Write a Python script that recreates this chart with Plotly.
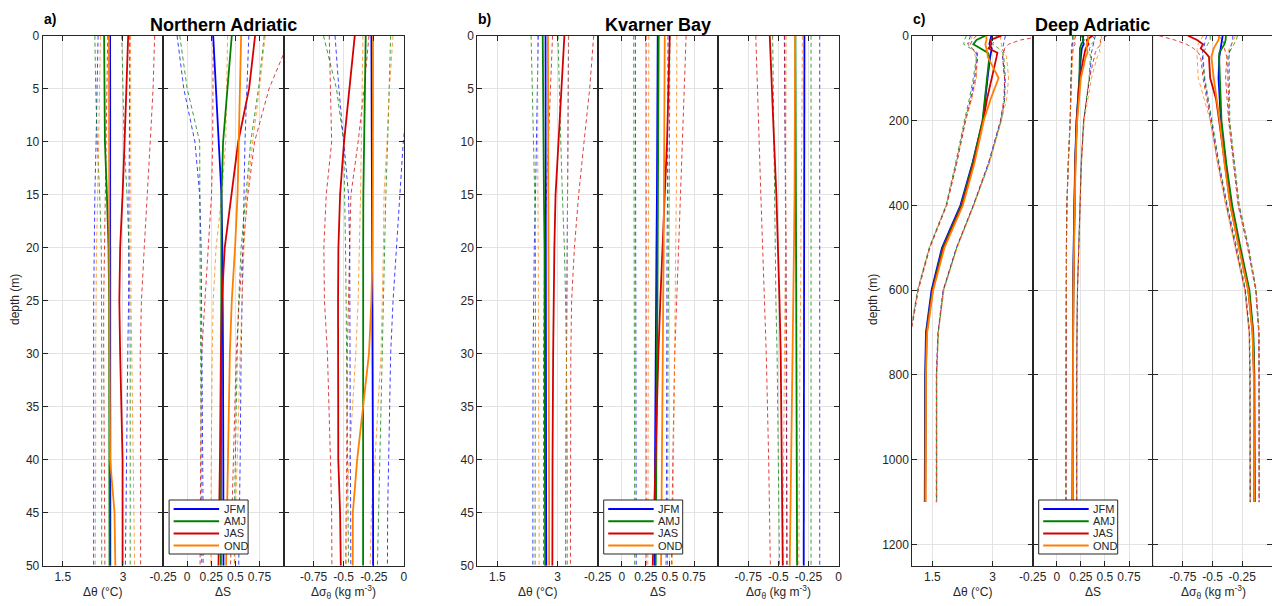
import plotly.graph_objects as go

# ---------------- data ----------------
seasons = ["JFM", "AMJ", "JAS", "OND"]
season_colors = ["#0000ff", "#008000", "#d40000", "#ff8000"]

depth_ab = [0, 5, 10, 15, 20, 25, 30, 40, 45, 50]
depth_c = [0, 10, 20, 30, 40, 50, 100, 150, 200, 300, 400, 500, 600, 700, 800, 1100]

# ---- a) Northern Adriatic : delta theta ----
na_th_jfm = [2.68, 2.68, 2.68, 2.68, 2.68, 2.68, 2.68, 2.68, 2.685, 2.685]
na_th_jfm_lo = [2.38, 2.36, 2.33, 2.30, 2.28, 2.27, 2.27, 2.27, 2.27, 2.27]
na_th_jfm_hi = [3.17, 3.17, 3.16, 3.15, 3.15, 3.14, 3.12, 3.09, 3.07, 3.06]
na_th_amj = [2.53, 2.535, 2.55, 2.60, 2.64, 2.655, 2.66, 2.665, 2.665, 2.665]
na_th_amj_lo = [2.30, 2.32, 2.36, 2.42, 2.46, 2.47, 2.47, 2.47, 2.47, 2.47]
na_th_amj_hi = [2.97, 3.00, 3.03, 3.10, 3.15, 3.17, 3.18, 3.18, 3.18, 3.18]
na_th_jas = [3.13, 3.09, 3.04, 2.99, 2.93, 2.91, 2.93, 2.99, 2.99, 2.99]
na_th_jas_lo = [2.62, 2.60, 2.58, 2.56, 2.54, 2.52, 2.52, 2.54, 2.55, 2.55]
na_th_jas_hi = [3.79, 3.75, 3.68, 3.60, 3.53, 3.46, 3.43, 3.44, 3.44, 3.44]
na_th_ond = [2.65, 2.65, 2.65, 2.65, 2.655, 2.66, 2.665, 2.68, 2.79, 2.81]
na_th_ond_lo = [2.44, 2.42, 2.40, 2.37, 2.34, 2.33, 2.32, 2.32, 2.31, 2.31]
na_th_ond_hi = [3.19, 3.19, 3.19, 3.19, 3.19, 3.20, 3.22, 3.25, 3.28, 3.29]

# ---- a) Northern Adriatic : delta S ----
na_s_jfm = [0.27, 0.30, 0.33, 0.356, 0.365, 0.37, 0.372, 0.375, 0.377, 0.377]
na_s_jfm_lo = [-0.105, -0.035, 0.08, 0.13, 0.145, 0.15, 0.155, 0.16, 0.165, 0.165]
na_s_jfm_hi = [0.64, 0.62, 0.60, 0.59, 0.58, 0.57, 0.56, 0.55, 0.54, 0.535]
na_s_amj = [0.463, 0.42, 0.373, 0.356, 0.355, 0.355, 0.355, 0.352, 0.35, 0.35]
na_s_amj_lo = [-0.077, 0.0, 0.13, 0.13, 0.13, 0.135, 0.14, 0.145, 0.15, 0.15]
na_s_amj_hi = [0.80, 0.74, 0.66, 0.61, 0.56, 0.535, 0.52, 0.50, 0.49, 0.49]
na_s_jas = [0.705, 0.643, 0.53, 0.46, 0.39, 0.36, 0.35, 0.34, 0.33, 0.325]
na_s_jas_lo = [0.27, 0.27, 0.265, 0.253, 0.22, 0.18, 0.15, 0.14, 0.135, 0.134]
na_s_jas_hi = [1.08, 0.85, 0.70, 0.63, 0.58, 0.54, 0.51, 0.48, 0.46, 0.45]
na_s_ond = [0.56, 0.55, 0.535, 0.523, 0.497, 0.463, 0.443, 0.42, 0.41, 0.404]
na_s_ond_lo = [0.42, 0.41, 0.40, 0.36, 0.30, 0.27, 0.26, 0.25, 0.245, 0.245]
na_s_ond_hi = [0.81, 0.75, 0.68, 0.62, 0.59, 0.57, 0.55, 0.52, 0.50, 0.49]

# ---- a) Northern Adriatic : delta sigma_theta ----
na_sg_jfm = [-0.27, -0.268, -0.265, -0.262, -0.26, -0.26, -0.258, -0.257, -0.256, -0.256]
na_sg_jfm_lo = [-0.572, -0.54, -0.50, -0.46, -0.45, -0.45, -0.45, -0.445, -0.442, -0.441]
na_sg_jfm_hi = [0.10, 0.04, -0.005, -0.035, -0.06, -0.09, -0.11, -0.13, -0.135, -0.137]
na_sg_amj = [-0.317, -0.325, -0.333, -0.337, -0.338, -0.339, -0.339, -0.339, -0.339, -0.339]
na_sg_amj_lo = [-0.668, -0.56, -0.50, -0.49, -0.485, -0.48, -0.475, -0.47, -0.465, -0.46]
na_sg_amj_hi = [-0.11, -0.12, -0.135, -0.15, -0.16, -0.17, -0.18, -0.20, -0.21, -0.22]
na_sg_jas = [-0.408, -0.455, -0.497, -0.53, -0.544, -0.547, -0.547, -0.545, -0.53, -0.524]
na_sg_jas_lo = [-0.62, -0.61, -0.60, -0.645, -0.665, -0.66, -0.635, -0.61, -0.60, -0.598]
na_sg_jas_hi = [-0.29, -0.33, -0.38, -0.44, -0.45, -0.46, -0.47, -0.475, -0.48, -0.483]
na_sg_ond = [-0.256, -0.256, -0.256, -0.257, -0.26, -0.27, -0.29, -0.388, -0.424, -0.425]
na_sg_ond_lo = [-0.34, -0.345, -0.35, -0.36, -0.37, -0.38, -0.40, -0.45, -0.48, -0.48]
na_sg_ond_hi = [-0.09, -0.12, -0.14, -0.165, -0.17, -0.18, -0.19, -0.24, -0.27, -0.28]

# ---- b) Kvarner Bay : delta theta ----
kb_th_jfm = [2.70, 2.70, 2.70, 2.705, 2.705, 2.71, 2.71, 2.71, 2.715, 2.72]
kb_th_jfm_lo = [2.52, 2.50, 2.47, 2.45, 2.42, 2.40, 2.39, 2.385, 2.385, 2.385]
kb_th_jfm_hi = [3.275, 3.27, 3.26, 3.25, 3.24, 3.23, 3.22, 3.21, 3.20, 3.20]
kb_th_amj = [2.63, 2.635, 2.645, 2.66, 2.675, 2.68, 2.685, 2.69, 2.69, 2.69]
kb_th_amj_lo = [2.34, 2.37, 2.41, 2.43, 2.45, 2.45, 2.45, 2.44, 2.44, 2.44]
kb_th_amj_hi = [3.01, 3.04, 3.08, 3.12, 3.17, 3.20, 3.22, 3.24, 3.24, 3.24]
kb_th_jas = [3.17, 3.10, 3.03, 2.95, 2.92, 2.90, 2.89, 2.875, 2.87, 2.87]
kb_th_jas_lo = [2.875, 2.82, 2.77, 2.72, 2.68, 2.66, 2.65, 2.65, 2.65, 2.65]
kb_th_jas_hi = [3.90, 3.80, 3.66, 3.525, 3.42, 3.35, 3.33, 3.32, 3.32, 3.32]
kb_th_ond = [2.76, 2.765, 2.77, 2.775, 2.78, 2.785, 2.785, 2.79, 2.79, 2.79]
kb_th_ond_lo = [2.50, 2.50, 2.50, 2.51, 2.52, 2.52, 2.53, 2.53, 2.54, 2.54]
kb_th_ond_hi = [3.27, 3.27, 3.26, 3.25, 3.24, 3.23, 3.22, 3.21, 3.20, 3.20]

# ---- b) Kvarner Bay : delta S ----
kb_s_jfm = [0.373, 0.372, 0.37, 0.365, 0.36, 0.355, 0.35, 0.345, 0.343, 0.342]
kb_s_jfm_lo = [0.141, 0.142, 0.143, 0.145, 0.146, 0.147, 0.148, 0.149, 0.15, 0.15]
kb_s_jfm_hi = [0.48, 0.48, 0.478, 0.475, 0.47, 0.47, 0.468, 0.465, 0.462, 0.46]
kb_s_amj = [0.383, 0.382, 0.38, 0.378, 0.375, 0.37, 0.365, 0.36, 0.355, 0.352]
kb_s_amj_lo = [0.124, 0.126, 0.128, 0.13, 0.13, 0.131, 0.132, 0.133, 0.134, 0.134]
kb_s_amj_hi = [0.50, 0.50, 0.495, 0.49, 0.485, 0.48, 0.48, 0.478, 0.476, 0.475]
kb_s_jas = [0.498, 0.485, 0.47, 0.446, 0.42, 0.40, 0.38, 0.35, 0.33, 0.321]
kb_s_jas_lo = [0.253, 0.253, 0.253, 0.253, 0.253, 0.253, 0.253, 0.253, 0.253, 0.253]
kb_s_jas_hi = [0.668, 0.65, 0.63, 0.61, 0.59, 0.57, 0.55, 0.53, 0.52, 0.515]
kb_s_ond = [0.446, 0.445, 0.443, 0.44, 0.435, 0.43, 0.425, 0.415, 0.41, 0.408]
kb_s_ond_lo = [0.28, 0.28, 0.279, 0.278, 0.277, 0.276, 0.275, 0.273, 0.272, 0.27]
kb_s_ond_hi = [0.572, 0.572, 0.57, 0.566, 0.56, 0.555, 0.548, 0.537, 0.53, 0.525]

# ---- b) Kvarner Bay : delta sigma_theta ----
kb_sg_jfm = [-0.283, -0.284, -0.285, -0.285, -0.286, -0.286, -0.287, -0.288, -0.289, -0.289]
kb_sg_jfm_lo = [-0.447, -0.445, -0.443, -0.44, -0.438, -0.436, -0.434, -0.431, -0.429, -0.427]
kb_sg_jfm_hi = [-0.156, -0.156, -0.156, -0.156, -0.156, -0.156, -0.156, -0.156, -0.156, -0.156]
kb_sg_amj = [-0.358, -0.356, -0.354, -0.352, -0.35, -0.349, -0.348, -0.346, -0.345, -0.344]
kb_sg_amj_lo = [-0.547, -0.54, -0.535, -0.53, -0.525, -0.52, -0.51, -0.50, -0.495, -0.49]
kb_sg_amj_hi = [-0.228, -0.228, -0.228, -0.228, -0.228, -0.228, -0.228, -0.228, -0.228, -0.228]
kb_sg_jas = [-0.571, -0.555, -0.535, -0.516, -0.50, -0.49, -0.48, -0.47, -0.466, -0.463]
kb_sg_jas_lo = [-0.687, -0.675, -0.66, -0.645, -0.63, -0.615, -0.60, -0.58, -0.57, -0.566]
kb_sg_jas_hi = [-0.45, -0.445, -0.44, -0.44, -0.435, -0.435, -0.43, -0.43, -0.43, -0.43]
kb_sg_ond = [-0.36, -0.36, -0.36, -0.365, -0.37, -0.375, -0.38, -0.39, -0.40, -0.405]
kb_sg_ond_lo = [-0.435, -0.435, -0.437, -0.44, -0.44, -0.445, -0.45, -0.455, -0.46, -0.46]
kb_sg_ond_hi = [-0.30, -0.30, -0.305, -0.31, -0.31, -0.315, -0.32, -0.325, -0.33, -0.33]

# ---- c) Deep Adriatic : delta theta ----
da_th_jfm = [2.97, 2.94, 2.92, 2.98, 2.96, 2.94, 2.875, 2.82, 2.76, 2.50, 2.20, 1.74, 1.48, 1.34, 1.32, 1.31]
da_th_jfm_lo = [2.45, 2.42, 2.38, 2.50, 2.60, 2.62, 2.55, 2.45, 2.32, 2.10, 1.85, 1.43, 1.14, 0.96, 0.94, 0.94]
da_th_jfm_hi = [3.32, 3.30, 3.28, 3.25, 3.28, 3.25, 3.30, 3.30, 3.20, 2.90, 2.52, 2.10, 1.77, 1.64, 1.60, 1.60]
da_th_amj = [2.82, 2.60, 2.52, 2.70, 2.88, 2.92, 2.86, 2.80, 2.75, 2.51, 2.22, 1.76, 1.50, 1.35, 1.33, 1.32]
da_th_amj_lo = [2.35, 2.30, 2.28, 2.45, 2.58, 2.60, 2.52, 2.42, 2.30, 2.08, 1.84, 1.42, 1.13, 0.95, 0.93, 0.93]
da_th_amj_hi = [3.10, 3.05, 3.00, 3.15, 3.25, 3.28, 3.32, 3.30, 3.22, 2.92, 2.53, 2.11, 1.78, 1.65, 1.61, 1.61]
da_th_jas = [3.22, 2.95, 2.97, 2.90, 3.12, 3.10, 2.98, 2.86, 2.77, 2.53, 2.24, 1.78, 1.51, 1.36, 1.335, 1.325]
da_th_jas_lo = [2.60, 2.50, 2.45, 2.48, 2.62, 2.63, 2.58, 2.47, 2.33, 2.11, 1.86, 1.44, 1.15, 0.97, 0.95, 0.95]
da_th_jas_hi = [4.30, 3.70, 3.40, 3.30, 3.28, 3.25, 3.30, 3.28, 3.20, 2.90, 2.52, 2.10, 1.77, 1.64, 1.60, 1.60]
da_th_ond = [2.84, 2.85, 2.82, 2.85, 2.87, 2.88, 3.15, 2.95, 2.78, 2.55, 2.26, 1.80, 1.52, 1.37, 1.34, 1.33]
da_th_ond_lo = [2.50, 2.45, 2.40, 2.50, 2.55, 2.58, 2.60, 2.48, 2.32, 2.10, 1.85, 1.43, 1.14, 0.96, 0.94, 0.94]
da_th_ond_hi = [3.20, 3.20, 3.22, 3.22, 3.30, 3.35, 3.40, 3.35, 3.22, 2.92, 2.54, 2.12, 1.79, 1.65, 1.61, 1.61]

# ---- c) Deep Adriatic : delta S ----
da_s_jfm = [0.276, 0.27, 0.28, 0.26, 0.255, 0.25, 0.235, 0.22, 0.205, 0.19, 0.18, 0.175, 0.17, 0.167, 0.165, 0.163]
da_s_jfm_lo = [0.17, 0.165, 0.16, 0.158, 0.155, 0.155, 0.15, 0.145, 0.14, 0.12, 0.105, 0.10, 0.098, 0.096, 0.095, 0.095]
da_s_jfm_hi = [0.40, 0.39, 0.38, 0.37, 0.36, 0.36, 0.34, 0.31, 0.28, 0.255, 0.24, 0.225, 0.215, 0.21, 0.207, 0.207]
da_s_amj = [0.26, 0.28, 0.255, 0.24, 0.24, 0.24, 0.235, 0.222, 0.207, 0.192, 0.182, 0.177, 0.172, 0.169, 0.167, 0.165]
da_s_amj_lo = [0.16, 0.17, 0.155, 0.15, 0.15, 0.152, 0.148, 0.143, 0.138, 0.118, 0.104, 0.099, 0.097, 0.096, 0.095, 0.095]
da_s_amj_hi = [0.37, 0.40, 0.36, 0.34, 0.34, 0.35, 0.335, 0.305, 0.278, 0.253, 0.238, 0.224, 0.214, 0.209, 0.207, 0.207]
da_s_jas = [0.37, 0.31, 0.33, 0.30, 0.29, 0.28, 0.24, 0.225, 0.208, 0.193, 0.183, 0.178, 0.173, 0.17, 0.168, 0.166]
da_s_jas_lo = [0.20, 0.18, 0.19, 0.17, 0.165, 0.16, 0.15, 0.145, 0.14, 0.12, 0.105, 0.10, 0.098, 0.096, 0.095, 0.095]
da_s_jas_hi = [0.52, 0.45, 0.46, 0.42, 0.40, 0.39, 0.34, 0.31, 0.28, 0.255, 0.24, 0.225, 0.215, 0.21, 0.207, 0.207]
da_s_ond = [0.32, 0.33, 0.31, 0.31, 0.32, 0.30, 0.25, 0.23, 0.212, 0.195, 0.185, 0.178, 0.172, 0.17, 0.168, 0.167]
da_s_ond_lo = [0.18, 0.18, 0.17, 0.17, 0.17, 0.165, 0.155, 0.148, 0.142, 0.121, 0.106, 0.101, 0.098, 0.096, 0.095, 0.095]
da_s_ond_hi = [0.46, 0.47, 0.45, 0.44, 0.45, 0.42, 0.36, 0.32, 0.285, 0.258, 0.242, 0.226, 0.216, 0.21, 0.208, 0.208]

# ---- c) Deep Adriatic : delta sigma_theta ----
da_sg_jfm = [-0.415, -0.42, -0.43, -0.435, -0.44, -0.443, -0.45, -0.44, -0.43, -0.39, -0.34, -0.27, -0.195, -0.16, -0.15, -0.147]
da_sg_jfm_lo = [-0.55, -0.56, -0.57, -0.58, -0.585, -0.585, -0.57, -0.54, -0.51, -0.45, -0.38, -0.30, -0.225, -0.19, -0.185, -0.183]
da_sg_jfm_hi = [-0.33, -0.33, -0.34, -0.35, -0.36, -0.37, -0.37, -0.365, -0.36, -0.32, -0.28, -0.20, -0.135, -0.11, -0.108, -0.108]
da_sg_amj = [-0.388, -0.39, -0.40, -0.42, -0.443, -0.445, -0.44, -0.435, -0.425, -0.385, -0.335, -0.265, -0.19, -0.157, -0.148, -0.145]
da_sg_amj_lo = [-0.52, -0.52, -0.54, -0.56, -0.58, -0.58, -0.565, -0.535, -0.505, -0.445, -0.375, -0.295, -0.222, -0.188, -0.184, -0.182]
da_sg_amj_hi = [-0.29, -0.30, -0.32, -0.34, -0.36, -0.36, -0.36, -0.36, -0.355, -0.315, -0.275, -0.195, -0.132, -0.108, -0.106, -0.106]
da_sg_jas = [-0.706, -0.63, -0.58, -0.60, -0.56, -0.53, -0.52, -0.47, -0.445, -0.40, -0.35, -0.275, -0.20, -0.163, -0.152, -0.149]
da_sg_jas_lo = [-0.95, -0.82, -0.72, -0.66, -0.62, -0.60, -0.58, -0.55, -0.515, -0.455, -0.385, -0.305, -0.228, -0.192, -0.186, -0.184]
da_sg_jas_hi = [-0.45, -0.42, -0.40, -0.40, -0.39, -0.38, -0.39, -0.375, -0.365, -0.325, -0.285, -0.205, -0.138, -0.112, -0.109, -0.109]
da_sg_ond = [-0.443, -0.45, -0.47, -0.49, -0.50, -0.51, -0.49, -0.465, -0.44, -0.40, -0.35, -0.278, -0.20, -0.164, -0.153, -0.15]
da_sg_ond_lo = [-0.58, -0.60, -0.62, -0.63, -0.63, -0.63, -0.62, -0.57, -0.52, -0.46, -0.39, -0.31, -0.23, -0.193, -0.187, -0.185]
da_sg_ond_hi = [-0.31, -0.32, -0.34, -0.36, -0.37, -0.38, -0.37, -0.365, -0.36, -0.32, -0.28, -0.20, -0.135, -0.11, -0.108, -0.108]

# axis ticks
theta_ticks = [1.5, 3]
theta_ticktext = ["1.5", "3"]
sal_ticks = [-0.25, 0, 0.25, 0.5, 0.75]
sal_ticktext = ["-0.25", "0", "0.25", "0.5", "0.75"]
sig_ticks = [-0.75, -0.5, -0.25, 0]
sig_ticktext = ["-0.75", "-0.5", "-0.25", "0"]
depth_ticks_ab = [0, 5, 10, 15, 20, 25, 30, 35, 40, 45, 50]
depth_ticks_c = [0, 200, 400, 600, 800, 1000, 1200]

# ---------------- assembly ----------------
panels = [
    dict(label="a)", title="Northern Adriatic", depth=depth_ab, yrange=[50, 0],
         yticks=depth_ticks_ab, left=42.7, ytitle=True,
         vars=[[(na_th_jfm, na_th_jfm_lo, na_th_jfm_hi), (na_th_amj, na_th_amj_lo, na_th_amj_hi),
                (na_th_jas, na_th_jas_lo, na_th_jas_hi), (na_th_ond, na_th_ond_lo, na_th_ond_hi)],
               [(na_s_jfm, na_s_jfm_lo, na_s_jfm_hi), (na_s_amj, na_s_amj_lo, na_s_amj_hi),
                (na_s_jas, na_s_jas_lo, na_s_jas_hi), (na_s_ond, na_s_ond_lo, na_s_ond_hi)],
               [(na_sg_jfm, na_sg_jfm_lo, na_sg_jfm_hi), (na_sg_amj, na_sg_amj_lo, na_sg_amj_hi),
                (na_sg_jas, na_sg_jas_lo, na_sg_jas_hi), (na_sg_ond, na_sg_ond_lo, na_sg_ond_hi)]]),
    dict(label="b)", title="Kvarner Bay", depth=depth_ab, yrange=[50, 0],
         yticks=depth_ticks_ab, left=477.3, ytitle=False,
         vars=[[(kb_th_jfm, kb_th_jfm_lo, kb_th_jfm_hi), (kb_th_amj, kb_th_amj_lo, kb_th_amj_hi),
                (kb_th_jas, kb_th_jas_lo, kb_th_jas_hi), (kb_th_ond, kb_th_ond_lo, kb_th_ond_hi)],
               [(kb_s_jfm, kb_s_jfm_lo, kb_s_jfm_hi), (kb_s_amj, kb_s_amj_lo, kb_s_amj_hi),
                (kb_s_jas, kb_s_jas_lo, kb_s_jas_hi), (kb_s_ond, kb_s_ond_lo, kb_s_ond_hi)],
               [(kb_sg_jfm, kb_sg_jfm_lo, kb_sg_jfm_hi), (kb_sg_amj, kb_sg_amj_lo, kb_sg_amj_hi),
                (kb_sg_jas, kb_sg_jas_lo, kb_sg_jas_hi), (kb_sg_ond, kb_sg_ond_lo, kb_sg_ond_hi)]]),
    dict(label="c)", title="Deep Adriatic", depth=depth_c, yrange=[1250, 0],
         yticks=depth_ticks_c, left=912.3, ytitle=True,
         vars=[[(da_th_jfm, da_th_jfm_lo, da_th_jfm_hi), (da_th_amj, da_th_amj_lo, da_th_amj_hi),
                (da_th_jas, da_th_jas_lo, da_th_jas_hi), (da_th_ond, da_th_ond_lo, da_th_ond_hi)],
               [(da_s_jfm, da_s_jfm_lo, da_s_jfm_hi), (da_s_amj, da_s_amj_lo, da_s_amj_hi),
                (da_s_jas, da_s_jas_lo, da_s_jas_hi), (da_s_ond, da_s_ond_lo, da_s_ond_hi)],
               [(da_sg_jfm, da_sg_jfm_lo, da_sg_jfm_hi), (da_sg_amj, da_sg_amj_lo, da_sg_amj_hi),
                (da_sg_jas, da_sg_jas_lo, da_sg_jas_hi), (da_sg_ond, da_sg_ond_lo, da_sg_ond_hi)]]),
]

W, H = 1272, 606
SUBW = 120.4
TOP, BOT = 35.7, 565.7
FONT = "Liberation Sans, Arial, Helvetica, sans-serif"
AX = "#262626"
GRID = "#e3e3e3"
TXT = "#262626"

x_ranges = [[1, 4], [-0.25, 1], [-1, 0]]
x_tickvals = [theta_ticks, sal_ticks, sig_ticks]
x_ticktext = [theta_ticktext, sal_ticktext, sig_ticktext]
x_titles = ["Δθ (°C)", "ΔS", "Δσ<sub>θ</sub> (kg m<sup>-3</sup>)"]


def px(x):
    return x / W


def py(y):
    return 1 - y / H


fig = go.Figure()
annotations = []
shapes = []
layout = dict(
    width=W, height=H, margin=dict(l=0, r=0, t=0, b=0, autoexpand=False),
    paper_bgcolor="white", plot_bgcolor="white", showlegend=False,
    font=dict(family=FONT, size=12, color=TXT),
)

for p, panel in enumerate(panels):
    for j in range(3):
        k = p * 3 + j + 1
        sfx = "" if k == 1 else str(k)
        x0 = panel["left"] + j * SUBW
        x1 = min(x0 + SUBW, W)
        layout["xaxis" + sfx] = dict(
            domain=[px(x0), px(x1)], range=x_ranges[j], anchor="y" + sfx,
            tickmode="array", tickvals=x_tickvals[j], ticktext=x_ticktext[j],
            ticks="inside", ticklen=5, tickcolor=AX, tickwidth=1,
            showline=True, linecolor=AX, linewidth=1, mirror="ticks",
            showgrid=True, gridcolor=GRID, gridwidth=1, zeroline=False,
            automargin=False,
            tickfont=dict(family=FONT, size=12, color=TXT), fixedrange=True,
        )
        layout["yaxis" + sfx] = dict(
            domain=[py(BOT), py(TOP)], range=panel["yrange"], anchor="x" + sfx,
            tickmode="array", tickvals=panel["yticks"],
            ticks="inside", ticklen=5, tickcolor=AX, tickwidth=1,
            showline=True, linecolor=AX, linewidth=1, mirror="ticks",
            showgrid=True, gridcolor=GRID, gridwidth=1, zeroline=False,
            showticklabels=(j == 0), automargin=False,
            tickfont=dict(family=FONT, size=12, color=TXT), fixedrange=True,
        )
        # dashed spread lines
        for s, season in enumerate(seasons):
            mean, lo, hi = panel["vars"][j][s]
            for bound in (lo, hi):
                fig.add_trace(go.Scatter(
                    x=bound, y=panel["depth"], mode="lines",
                    line=dict(color=season_colors[s], width=1, dash="4px,3px"),
                    opacity=0.75, showlegend=False, hoverinfo="skip",
                    xaxis="x" + sfx, yaxis="y" + sfx,
                ))
        # solid mean lines
        for s, season in enumerate(seasons):
            mean, lo, hi = panel["vars"][j][s]
            fig.add_trace(go.Scatter(
                x=mean, y=panel["depth"], mode="lines", name=season,
                line=dict(color=season_colors[s], width=1.8),
                showlegend=False,
                xaxis="x" + sfx, yaxis="y" + sfx,
            ))
        # x-axis title
        annotations.append(dict(
            text=x_titles[j], x=px(x0 + SUBW / 2), y=py(592), xref="paper", yref="paper",
            xanchor="center", yanchor="middle", showarrow=False,
            font=dict(family=FONT, size=12, color=TXT),
        ))
    # legend box (drawn in the salinity subplot)
    lg_l = panel["left"] + SUBW + 6
    lg_t, lg_b = 500, 554
    shapes.append(dict(
        type="rect", xref="paper", yref="paper",
        x0=px(lg_l), x1=px(lg_l + 79), y0=py(lg_b), y1=py(lg_t),
        fillcolor="white", line=dict(color=AX, width=1), layer="above",
    ))
    for s, season in enumerate(seasons):
        ry = lg_t + 9 + s * 12.2
        shapes.append(dict(
            type="line", xref="paper", yref="paper",
            x0=px(lg_l + 4.5), x1=px(lg_l + 50), y0=py(ry), y1=py(ry),
            line=dict(color=season_colors[s], width=2), layer="above",
        ))
        annotations.append(dict(
            text=season, x=px(lg_l + 52.5), y=py(ry), xref="paper", yref="paper",
            xanchor="left", yanchor="middle", showarrow=False,
            font=dict(family=FONT, size=11, color=TXT),
        ))
    center = panel["left"] + 1.5 * SUBW
    annotations.append(dict(
        text="<b>" + panel["title"] + "</b>", x=px(center), y=py(25), xref="paper", yref="paper",
        xanchor="center", yanchor="middle", showarrow=False,
        font=dict(family=FONT, size=18, color="black"),
    ))
    annotations.append(dict(
        text="<b>" + panel["label"] + "</b>", x=px(panel["left"] - 1), y=py(19), xref="paper", yref="paper",
        xanchor="left", yanchor="middle", showarrow=False,
        font=dict(family=FONT, size=14, color="black"),
    ))
    if panel["ytitle"]:
        ytx = 15 if p == 0 else 873
        annotations.append(dict(
            text="depth (m)", x=px(ytx), y=py(300), xref="paper", yref="paper",
            xanchor="center", yanchor="middle", showarrow=False, textangle=-90,
            font=dict(family=FONT, size=12, color=TXT),
        ))

layout["annotations"] = annotations
layout["shapes"] = shapes
fig.update_layout(**layout)
fig.write_html("out.html")
